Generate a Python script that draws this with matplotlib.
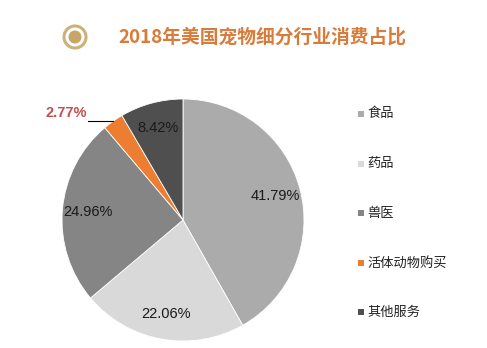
import matplotlib
matplotlib.use("Agg")
import matplotlib.pyplot as plt
from matplotlib.patches import Circle, Rectangle
import numpy as np

plt.rcParams['font.family'] = ['Liberation Sans', 'Noto Sans CJK SC', 'DejaVu Sans']

title = "2018年美国宠物细分行业消费占比"
categories = ["食品", "药品", "兽医", "活体动物购买", "其他服务"]
values = [41.79, 22.06, 24.96, 2.77, 8.42]
colors = ["#ABABAB", "#D9D9D9", "#858585", "#ED7D31", "#4F4F4F"]

W, H = 487, 348
fig = plt.figure(figsize=(W / 100, H / 100), dpi=100)
ax = fig.add_axes([0, 0, 1, 1])

cx, cy, r = 183, H - 220, 121
wedges, texts, autotexts = ax.pie(
    values, colors=colors, startangle=90, counterclock=False,
    center=(cx, cy), radius=r,
    autopct=lambda p: f"{p:.2f}%", pctdistance=0.79,
    wedgeprops=dict(edgecolor="white", linewidth=0.6),
    textprops=dict(fontsize=10.5, color="#1a1a1a"),
)
# small slice label outside
autotexts[3].set_visible(False)
w = wedges[3]
ang = np.deg2rad((w.theta1 + w.theta2) / 2)
ex, ey = cx + r * np.cos(ang), cy + r * np.sin(ang)
ax.plot([ex, ex - 25], [ey, ey], color="black", lw=0.8)
ax.text(ex - 26, ey + 1, f"{values[3]:.2f}%", color="#C0504D", fontsize=10.5,
        fontweight="bold", ha="right", va="bottom")

ax.set_xlim(0, W)
ax.set_ylim(0, H)
ax.set_aspect("equal")
ax.axis("off")

# title + icon
ax.add_patch(Circle((75, H - 37), 11, facecolor="white", edgecolor="#CDB07A", lw=2.2))
ax.add_patch(Circle((75, H - 37), 6.5, facecolor="#C9A566", edgecolor="none"))
ax.text(262, H - 37, title, fontsize=13.5, fontweight="bold", color="#D97B3A",
        ha="center", va="center", family=["Noto Sans CJK SC"])

# legend
ys = [114, 164, 213, 263, 312]
for cat, col, y in zip(categories, colors, ys):
    ax.add_patch(Rectangle((358, H - y - 3), 6, 6, facecolor=col, edgecolor="none"))
    ax.text(367, H - y, cat, fontsize=9.5, color="#222222", va="center", ha="left",
            family=["Noto Sans CJK SC"])

fig.savefig("out.png", dpi=100)
